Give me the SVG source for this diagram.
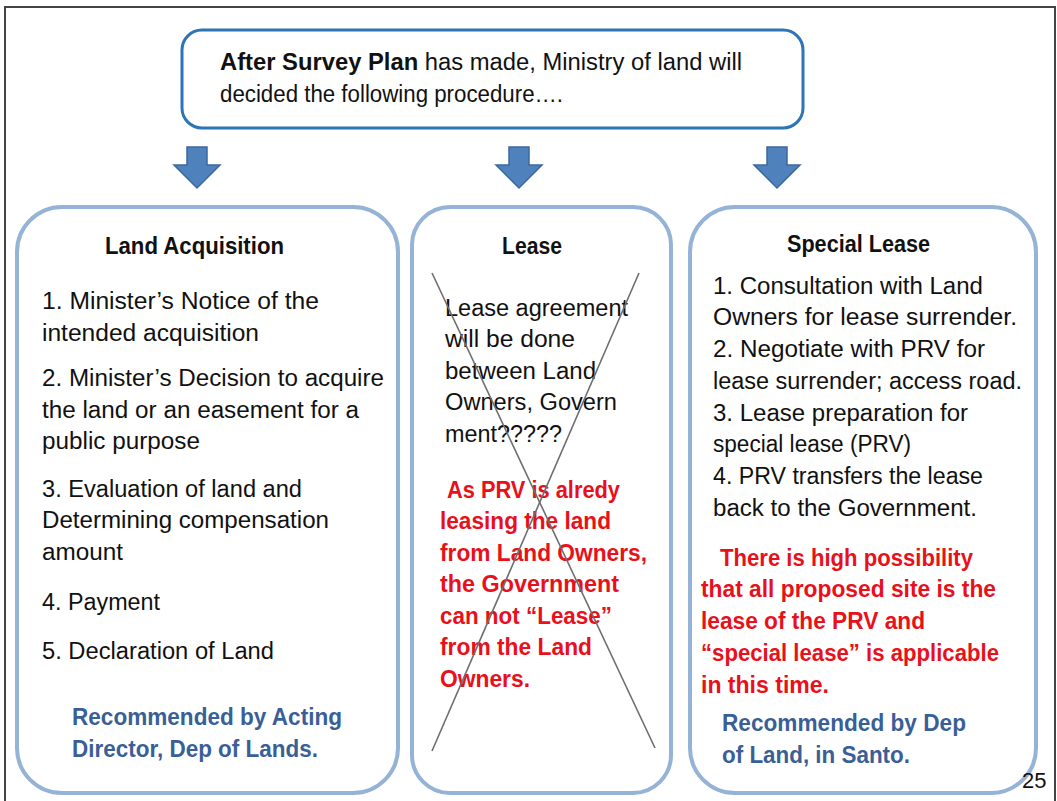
<svg xmlns="http://www.w3.org/2000/svg" width="1057" height="801" viewBox="0 0 1057 801">
<defs>
<style>
text{font-family:"Liberation Sans",Arial,sans-serif;font-size:23.5px;fill:#111}
.b{font-weight:bold}
.red{fill:#e8101a;font-weight:bold}
.blue{fill:#3a5f97;font-weight:bold}
.box{fill:#fff;stroke:#95b3d7;stroke-width:4}
.arr{fill:#4f81bd;stroke:#3c689e;stroke-width:1.5}
.x{stroke:#6e6e6e;stroke-width:1.6}
</style>
<path id="arrow" d="M-10,0 H10 V18 H23 L0,41 L-23,18 H-10 Z"/>
</defs>
<rect x="0" y="0" width="1057" height="801" fill="#fff"/>
<rect x="5" y="7" width="1050" height="810" fill="none" stroke="#444" stroke-width="2"/>

<g id="top">
<rect x="182" y="30" width="621" height="98" rx="20" fill="#fff" stroke="#2e75b6" stroke-width="3"/>
<text x="220" y="70" textLength="522" lengthAdjust="spacingAndGlyphs"><tspan class="b">After Survey Plan</tspan> has made, Ministry of land will</text>
<text x="220" y="102" textLength="343" lengthAdjust="spacingAndGlyphs">decided the following procedure….</text>
</g>

<g id="connectors">
<use href="#arrow" x="197" y="147" class="arr"/>
<use href="#arrow" x="519" y="147" class="arr"/>
<use href="#arrow" x="777" y="147" class="arr"/>
</g>

<g id="land-acquisition">
<rect class="box" x="17" y="207" width="381" height="586" rx="45"/>
<text class="b" x="105" y="254" textLength="179" lengthAdjust="spacingAndGlyphs">Land Acquisition</text>
<text x="42" y="309" textLength="277" lengthAdjust="spacingAndGlyphs">1. Minister’s Notice of the</text>
<text x="42" y="341" textLength="217" lengthAdjust="spacingAndGlyphs">intended acquisition</text>
<text x="42" y="386" textLength="342" lengthAdjust="spacingAndGlyphs">2. Minister’s Decision to acquire</text>
<text x="42" y="418" textLength="317" lengthAdjust="spacingAndGlyphs">the land or an easement for a</text>
<text x="42" y="449" textLength="158" lengthAdjust="spacingAndGlyphs">public purpose</text>
<text x="42" y="497" textLength="260" lengthAdjust="spacingAndGlyphs">3. Evaluation of land and</text>
<text x="42" y="528" textLength="287" lengthAdjust="spacingAndGlyphs">Determining compensation</text>
<text x="42" y="560" textLength="81" lengthAdjust="spacingAndGlyphs">amount</text>
<text x="42" y="610" textLength="118" lengthAdjust="spacingAndGlyphs">4. Payment</text>
<text x="42" y="659" textLength="232" lengthAdjust="spacingAndGlyphs">5. Declaration of Land</text>
<text class="blue" x="72" y="725" textLength="270" lengthAdjust="spacingAndGlyphs">Recommended by Acting</text>
<text class="blue" x="72" y="757" textLength="246" lengthAdjust="spacingAndGlyphs">Director, Dep of Lands.</text>
</g>

<g id="lease">
<rect class="box" x="412" y="207" width="259" height="586" rx="38"/>
<text class="b" x="502" y="254" textLength="60" lengthAdjust="spacingAndGlyphs">Lease</text>
<text x="445" y="316" textLength="183" lengthAdjust="spacingAndGlyphs">Lease agreement</text>
<text x="445" y="347" textLength="130" lengthAdjust="spacingAndGlyphs">will be done</text>
<text x="445" y="379" textLength="151" lengthAdjust="spacingAndGlyphs">between Land</text>
<text x="445" y="410" textLength="172" lengthAdjust="spacingAndGlyphs">Owners, Govern</text>
<text x="445" y="442" textLength="117" lengthAdjust="spacingAndGlyphs">ment?????</text>
<text class="red" x="447" y="498" textLength="173" lengthAdjust="spacingAndGlyphs">As PRV is alredy</text>
<text class="red" x="440" y="529" textLength="171" lengthAdjust="spacingAndGlyphs">leasing the land</text>
<text class="red" x="440" y="561" textLength="207" lengthAdjust="spacingAndGlyphs">from Land Owners,</text>
<text class="red" x="440" y="592" textLength="179" lengthAdjust="spacingAndGlyphs">the Government</text>
<text class="red" x="440" y="624" textLength="172" lengthAdjust="spacingAndGlyphs">can not “Lease”</text>
<text class="red" x="440" y="655" textLength="152" lengthAdjust="spacingAndGlyphs">from the Land</text>
<text class="red" x="440" y="687" textLength="90" lengthAdjust="spacingAndGlyphs">Owners.</text>
<line class="x" x1="432" y1="273" x2="655" y2="748"/>
<line class="x" x1="639" y1="273" x2="432" y2="751"/>
</g>

<g id="special-lease">
<rect class="box" x="690" y="207" width="346" height="586" rx="45"/>
<text class="b" x="787" y="252" textLength="143" lengthAdjust="spacingAndGlyphs">Special Lease</text>
<text x="713" y="294" textLength="270" lengthAdjust="spacingAndGlyphs">1. Consultation with Land</text>
<text x="713" y="325" textLength="304" lengthAdjust="spacingAndGlyphs">Owners for lease surrender.</text>
<text x="713" y="357" textLength="272" lengthAdjust="spacingAndGlyphs">2. Negotiate with PRV for</text>
<text x="713" y="389" textLength="309" lengthAdjust="spacingAndGlyphs">lease surrender; access road.</text>
<text x="713" y="421" textLength="255" lengthAdjust="spacingAndGlyphs">3. Lease preparation for</text>
<text x="713" y="452" textLength="198" lengthAdjust="spacingAndGlyphs">special lease (PRV)</text>
<text x="713" y="484" textLength="270" lengthAdjust="spacingAndGlyphs">4. PRV transfers the lease</text>
<text x="713" y="516" textLength="264" lengthAdjust="spacingAndGlyphs">back to the Government.</text>
<text class="red" x="720" y="566" textLength="253" lengthAdjust="spacingAndGlyphs">There is high possibility</text>
<text class="red" x="701" y="597" textLength="295" lengthAdjust="spacingAndGlyphs">that all proposed site is the</text>
<text class="red" x="701" y="629" textLength="224" lengthAdjust="spacingAndGlyphs">lease of the PRV and</text>
<text class="red" x="701" y="661" textLength="298" lengthAdjust="spacingAndGlyphs">“special lease” is applicable</text>
<text class="red" x="701" y="693" textLength="128" lengthAdjust="spacingAndGlyphs">in this time.</text>
<text class="blue" x="722" y="731" textLength="244" lengthAdjust="spacingAndGlyphs">Recommended by Dep</text>
<text class="blue" x="722" y="763" textLength="188" lengthAdjust="spacingAndGlyphs">of Land, in Santo.</text>
</g>

<text x="1022" y="788" style="font-size:22px">25</text>
</svg>
